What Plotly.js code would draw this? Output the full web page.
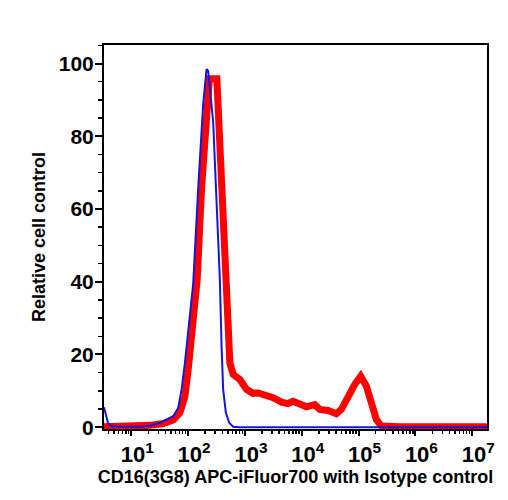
<!DOCTYPE html>
<html>
<head>
<meta charset="utf-8">
<script src="https://cdn.plot.ly/plotly-3.0.1.min.js"></script>
<style>html,body{margin:0;padding:0;background:#fff;}#chart{width:508px;height:500px;}</style>
</head>
<body>
<div id="chart"></div>
<script>
// Isotype control (blue)
var isoX = [3.31, 3.59, 3.89, 4.40, 6.32, 14.2, 21.3, 31.9, 41.9, 54.7, 67.0, 76.9, 87.9, 100.5, 115.3, 123.0, 150.7, 184.1, 211.3, 225.4, 276.1, 317.0, 362.2, 388.2, 414.0, 461.3, 527.2, 620.9, 812.8, 9183, 18600000];
var isoY = [5.5, 3.0, 1.2, 0.3, 0.1, 0.1, 0.4, 1.2, 2.0, 3.0, 5.3, 10.4, 17.7, 26.8, 36, 39.5, 65.8, 88.7, 98.5, 98, 84, 61.2, 40.6, 22.3, 10.4, 4, 1.2, 0.1, 0, 0, 0];
// CD16(3G8) APC-iFluor700 (red)
var cdX = [3.31, 6.31, 14.2, 21.3, 36.5, 54.7, 71.8, 87.9, 100.5, 115.3, 131.5, 144.5, 172.6, 211.3, 236.6, 320.6, 362.2, 414.0, 443.6, 490.9, 543.3, 620.9, 711.2, 812.8, 1066, 1393, 1706, 2399, 3133, 4395, 5741, 7031, 9226, 12106, 16904, 20701, 28973, 40738, 49888, 65163, 85310, 108893, 137088, 167880, 205589, 251768, 524807, 18600000];
var cdY = [0.1, 0.1, 0.3, 0.5, 1.0, 2.0, 4, 8.5, 15.9, 25, 35, 40.6, 65.8, 84, 95.8, 95.8, 75, 56.6, 45, 30, 17.7, 14.5, 14, 13.1, 10.4, 9.3, 9.4, 8.7, 8.1, 6.9, 6.5, 7.1, 6.2, 5.6, 6.2, 4.9, 4.6, 3.7, 4.9, 8.5, 11.7, 14, 11.3, 6.7, 2.1, 0.3, 0.1, 0.1];

var xTickVals = [10, 100, 1000, 10000, 100000, 1000000, 10000000];
var xTickText = ['10<sup>1</sup>', '10<sup>2</sup>', '10<sup>3</sup>', '10<sup>4</sup>', '10<sup>5</sup>', '10<sup>6</sup>', '10<sup>7</sup>'];
var xMinorVals = [];
[1, 10, 100, 1000, 10000, 100000, 1000000, 10000000].forEach(function (d) {
  for (var k = 2; k <= 9; k++) xMinorVals.push(k * d);
});
var yTickVals = [0, 20, 40, 60, 80, 100];

var fontFam = 'Liberation Sans, Arial, Helvetica, sans-serif';

var traces = [
  {x: cdX, y: cdY, type: 'scatter', mode: 'lines', line: {color: '#ff0000', width: 7, shape: 'linear'}, hoverinfo: 'skip', name: 'CD16'},
  {x: isoX, y: isoY, type: 'scatter', mode: 'lines', line: {color: '#1414dc', width: 2}, hoverinfo: 'skip', name: 'Isotype'}
];

var layout = {
  width: 508, height: 500,
  margin: {l: 104, r: 21, t: 45, b: 71},
  paper_bgcolor: '#fff', plot_bgcolor: '#fff',
  showlegend: false,
  font: {family: fontFam, color: '#000'},
  xaxis: {
    type: 'log',
    range: [0.52, 7.26],
    tickvals: xTickVals, ticktext: xTickText,
    ticks: 'outside', ticklen: 5, tickwidth: 2, tickcolor: '#000',
    ticklabelshift: 6,
    tickfont: {size: 22, weight: 'bold', family: fontFam, color: '#000'},
    minor: {tickvals: xMinorVals, ticks: 'outside', ticklen: 3, tickwidth: 1.5, tickcolor: '#000', showgrid: false},
    showgrid: false, zeroline: false,
    showline: true, linecolor: '#000', linewidth: 2, mirror: true,
    title: {text: 'CD16(3G8) APC-iFluor700 with Isotype control', font: {size: 18, weight: 'bold', family: fontFam, color: '#000'}, standoff: 2}
  },
  yaxis: {
    range: [-0.5, 105.1],
    tickvals: yTickVals,
    ticks: 'outside', ticklen: 7, tickwidth: 2, tickcolor: '#000',
    ticklabelstandoff: -3,
    tickfont: {size: 21, weight: 'bold', family: fontFam, color: '#000'},
    minor: {dtick: 5, ticks: 'outside', ticklen: 4, tickwidth: 1.5, tickcolor: '#000', showgrid: false},
    showgrid: false, zeroline: false,
    showline: true, linecolor: '#000', linewidth: 2, mirror: true,
    title: {text: 'Relative cell control', font: {size: 18, weight: 'bold', family: fontFam, color: '#000'}, standoff: 8}
  }
};

Plotly.newPlot('chart', traces, layout, {staticPlot: true, displayModeBar: false});
</script>
</body>
</html>
